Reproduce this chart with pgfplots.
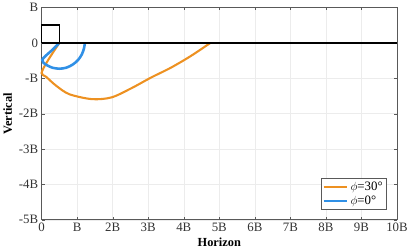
\documentclass[border=0pt]{standalone}
\usepackage{pgfplots}
\pgfplotsset{compat=1.18}
\usepackage{fontspec}
\setmainfont{Liberation Serif}
\definecolor{trajorange}{RGB}{237,145,33}
\definecolor{trajblue}{RGB}{48,144,230}
\begin{document}
\begin{tikzpicture}[x=1pt,y=1pt]
\begin{axis}[
  scale only axis,
  width=360pt, height=215pt,
  xmin=0, xmax=10, ymin=-5, ymax=1,
  xtick={0,1,...,10}, ytick={-5,-4,...,1},
  xticklabels={0,B,2B,3B,4B,5B,6B,7B,8B,9B,10B},
  yticklabels={-5B,-4B,-3B,-2B,-B,0,B},
  tick align=inside,
  tick pos=both,
  major tick length=3pt,
  grid=major,
  grid style={gray!15, line width=0.4pt},
  axis line style={gray!70!black, line width=0.6pt},
  tick style={gray!70!black},
  tick label style={font=\fontsize{13}{14}\selectfont, text=black!80},
  xlabel={\textbf{Horizon}}, ylabel={\textbf{Vertical}},
  label style={font=\fontsize{12.5}{13}\selectfont},
  xlabel style={yshift=1pt},
  ylabel style={yshift=0pt},
  legend style={font=\fontsize{13}{14}\selectfont, draw=gray!70!black, line width=0.5pt,
    row sep=0pt, inner sep=1.5pt, at={(0.97,0.047)}, anchor=south east},
  legend cell align=left,
  legend image post style={xscale=1.4},
  clip=false,
]
% trajectory launched at 30 degrees
\addplot[trajorange, line width=2.1pt, smooth, tension=0.5] coordinates {
  (0.5,0) (0.17,-0.51) (0,-0.85) (0.13,-0.96) (0.41,-1.21) (0.78,-1.45)
  (1.42,-1.59) (1.97,-1.54) (2.53,-1.28) (3.08,-0.98) (3.64,-0.70)
  (4.2,-0.37) (4.75,0)
};
\addlegendentry{$\phi$=30\textdegree}
% trajectory launched at 0 degrees
\addplot[trajblue, line width=2.6pt, smooth, tension=0.5] coordinates {
  (0.48,-0.02) (0.3,-0.2) (0.1,-0.38) (0.02,-0.48) (0.05,-0.56) (0.15,-0.63)
  (0.3,-0.7) (0.5,-0.73) (0.7,-0.7) (0.88,-0.61) (1.03,-0.48) (1.13,-0.33)
  (1.19,-0.17) (1.22,0)
};
\addlegendentry{$\phi$=0\textdegree}
% ground line and starting square
\addplot[black, line width=1.8pt, forget plot] coordinates {(0,0) (10,0)};
\addplot[black, line width=1.5pt, forget plot] coordinates {(0,0) (0,0.5) (0.5,0.5) (0.5,0)};
\end{axis}
\end{tikzpicture}
\end{document}
